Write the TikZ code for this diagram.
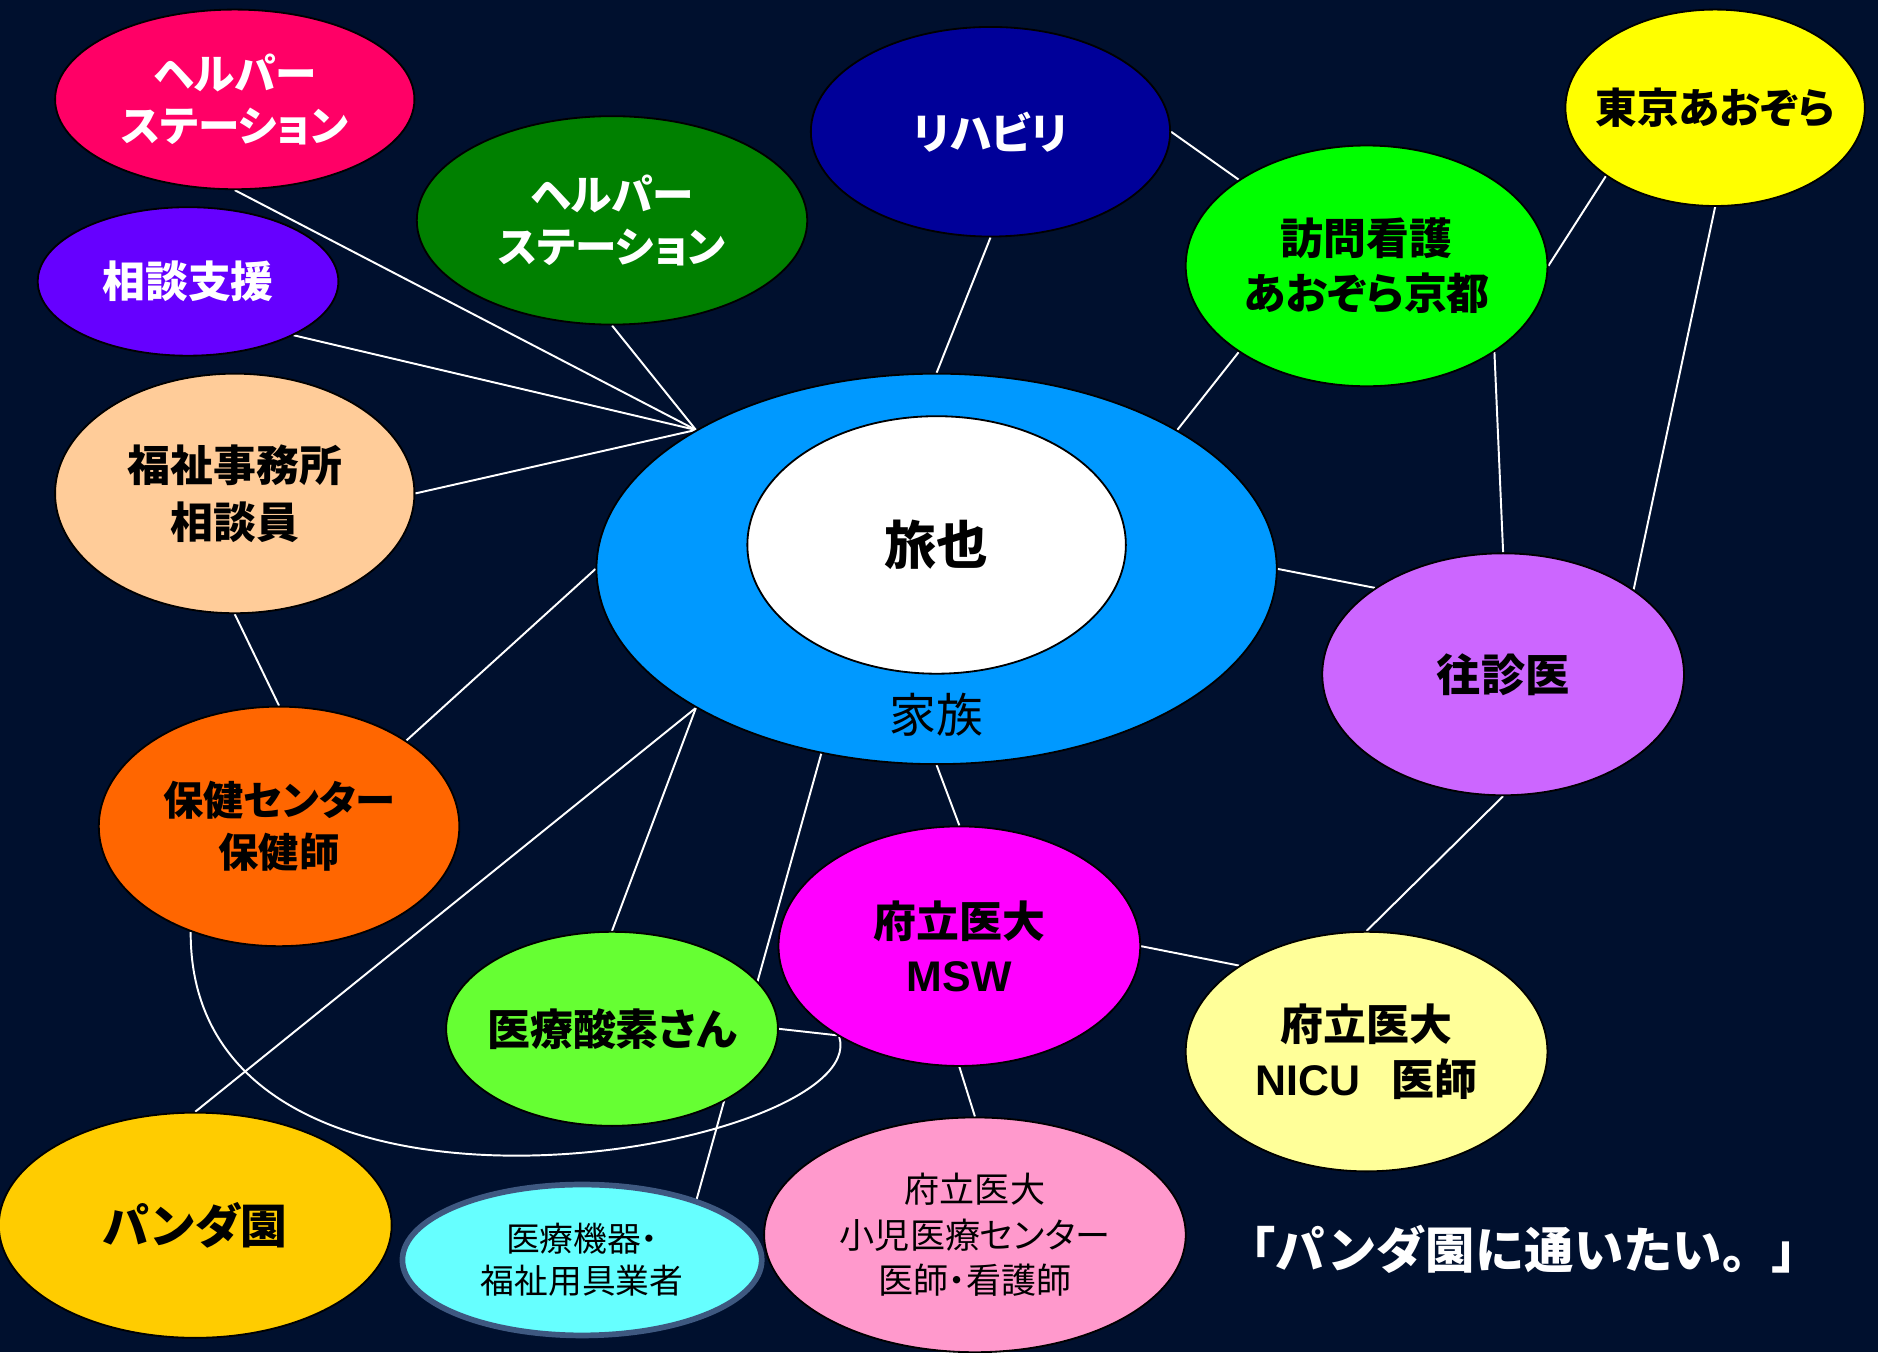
\documentclass[tikz,border=0pt]{standalone}
\usepackage{fontspec}
\usetikzlibrary{shapes.geometric}
\newfontfamily\jp{Noto Sans CJK JP}[RawFeature=+palt]
\newfontfamily\jpvoll{Noto Sans CJK JP}
\newfontfamily\lat{Liberation Sans}

\definecolor{nacht}{RGB}{0,16,46}
\definecolor{helperrot}{HTML}{FF0066}
\definecolor{helpergruen}{HTML}{008000}
\definecolor{rehablau}{HTML}{000099}
\definecolor{tokyogelb}{HTML}{FFFF00}
\definecolor{houmongruen}{HTML}{00FF00}
\definecolor{soudanlila}{HTML}{6600FF}
\definecolor{fukushipfirsich}{HTML}{FFCC99}
\definecolor{kazokublau}{HTML}{0099FF}
\definecolor{oushinlila}{HTML}{CC66FF}
\definecolor{hokenorange}{HTML}{FF6600}
\definecolor{mswmagenta}{HTML}{FF00FF}
\definecolor{nicugelb}{HTML}{FFFF99}
\definecolor{sansogruen}{HTML}{66FF33}
\definecolor{pandagold}{HTML}{FFCC00}
\definecolor{kikicyan}{HTML}{66FFFF}
\definecolor{kikirand}{RGB}{62,88,128}
\definecolor{shonirosa}{HTML}{FF99CC}

\pgfdeclarelayer{bg}
\pgfdeclarelayer{edges}
\pgfsetlayers{bg,edges,main}

\begin{document}
\begin{tikzpicture}[x=0.162mm,y=-0.162mm,
	blob/.style n args={3}{ellipse,draw=black,line width=0.7pt,fill=#1,
		minimum width={#2*0.162mm},minimum height={#3*0.162mm},inner sep=-3mm,
		align=center,font=\jp\bfseries\fontsize{16.5}{21}\selectfont},
	link/.style={white,line width=0.75pt}]

\def\gr#1#2{\fontsize{#1}{#2}\selectfont}

\useasboundingbox (0,0) rectangle (1568,1129);
\begin{pgfonlayer}{bg}
\fill[nacht] (0,0) rectangle (1568,1129);
\end{pgfonlayer}

% Familie in der Mitte
\node[blob={kazokublau}{568}{326}] (kazoku) at (782,475) {};
\node[blob={white}{316}{215},font=\jp\bfseries\gr{20}{24}] (tabiya) at (782,455) {旅也};
\node[font=\jp\gr{18}{22}] (kazokutext) at (782,597) {家族};

% obere Reihe
\node[blob={helperrot}{300}{150},text=white,font=\jp\bfseries\gr{16}{20}] (helpA) at (196,83) {ヘルパー\\ステーション};
\node[blob={helpergruen}{326}{174},text=white,font=\jp\bfseries\gr{16}{20}] (helpB) at (511,184) {ヘルパー\\ステーション};
\node[blob={rehablau}{300}{175},text=white] (reha) at (827,110) {リハビリ};
\node[blob={tokyogelb}{250}{164},font=\jp\bfseries\gr{16}{20}] (tokyo) at (1432,90) {東京あおぞら};
\node[blob={houmongruen}{302}{201}] (houmon) at (1141,222) {訪問看護\\あおぞら京都};

% linke Seite
\node[blob={soudanlila}{251}{124},text=white] (soudan) at (157,235) {相談支援};
\node[blob={fukushipfirsich}{300}{200},font=\jp\bfseries\gr{16.5}{22}] (fukushi) at (196,412) {福祉事務所\\相談員};
\node[blob={hokenorange}{301}{200},font=\jp\bfseries\gr{15.5}{20}] (hoken) at (233,690) {保健センター\\保健師};
\node[blob={pandagold}{328}{188},font=\jp\bfseries\gr{18}{22}] (panda) at (163,1023) {パンダ園};

% rechte Seite
\node[blob={oushinlila}{302}{202},font=\jp\bfseries\gr{17}{21}] (oushin) at (1255,563) {往診医};
\node[blob={nicugelb}{302}{200}] (nicu) at (1141,878) {府立医大\\{\lat NICU}\hspace{12pt}医師};

% unten
\node[blob={mswmagenta}{302}{200}] (msw) at (801,790) {府立医大\\{\lat MSW}};
\node[blob={sansogruen}{277}{162}] (sanso) at (511,859) {医療酸素さん};
\node[blob={kikicyan}{300}{126},draw=kikirand,line width=2.2pt,font=\jp\gr{13}{16}] (kiki) at (486,1052) {医療機器・\\福祉用具業者};
\node[blob={shonirosa}{352}{196},font=\jp\gr{13.5}{17.5}] (shoni) at (814,1031) {府立医大\\小児医療センター\\医師・看護師};

\node[text=white,font=\jpvoll\bfseries\gr{19}{23}] (wunsch) at (1272,1043) {「パンダ園に通いたい。」};

% Verbindungen
\begin{pgfonlayer}{edges}
\foreach \a/\b in {helpA.south/kazoku.150,helpB.south/kazoku.150,soudan.-27/kazoku.150,
	fukushi.east/kazoku.150,reha.south/kazoku.north,reha.east/houmon.146,
	houmon.214/kazoku.30,houmon.-34/oushin.north,tokyo.212/houmon.east,
	tokyo.south/oushin.33,kazoku.east/oushin.146,fukushi.south/hoken.north,
	kazoku.west/hoken.34,kazoku.210/panda.north,kazoku.210/sanso.north,
	kazoku.238/kiki.28,kazoku.south/msw.north,msw.south/shoni.north,
	msw.east/nicu.146,oushin.south/nicu.north,sanso.east/msw.216}
	\draw[link] (\a) -- (\b);
\draw[link] (hoken.230) .. controls (158,1065) and (730,960) .. (msw.217);
\end{pgfonlayer}

\end{tikzpicture}
\end{document}
